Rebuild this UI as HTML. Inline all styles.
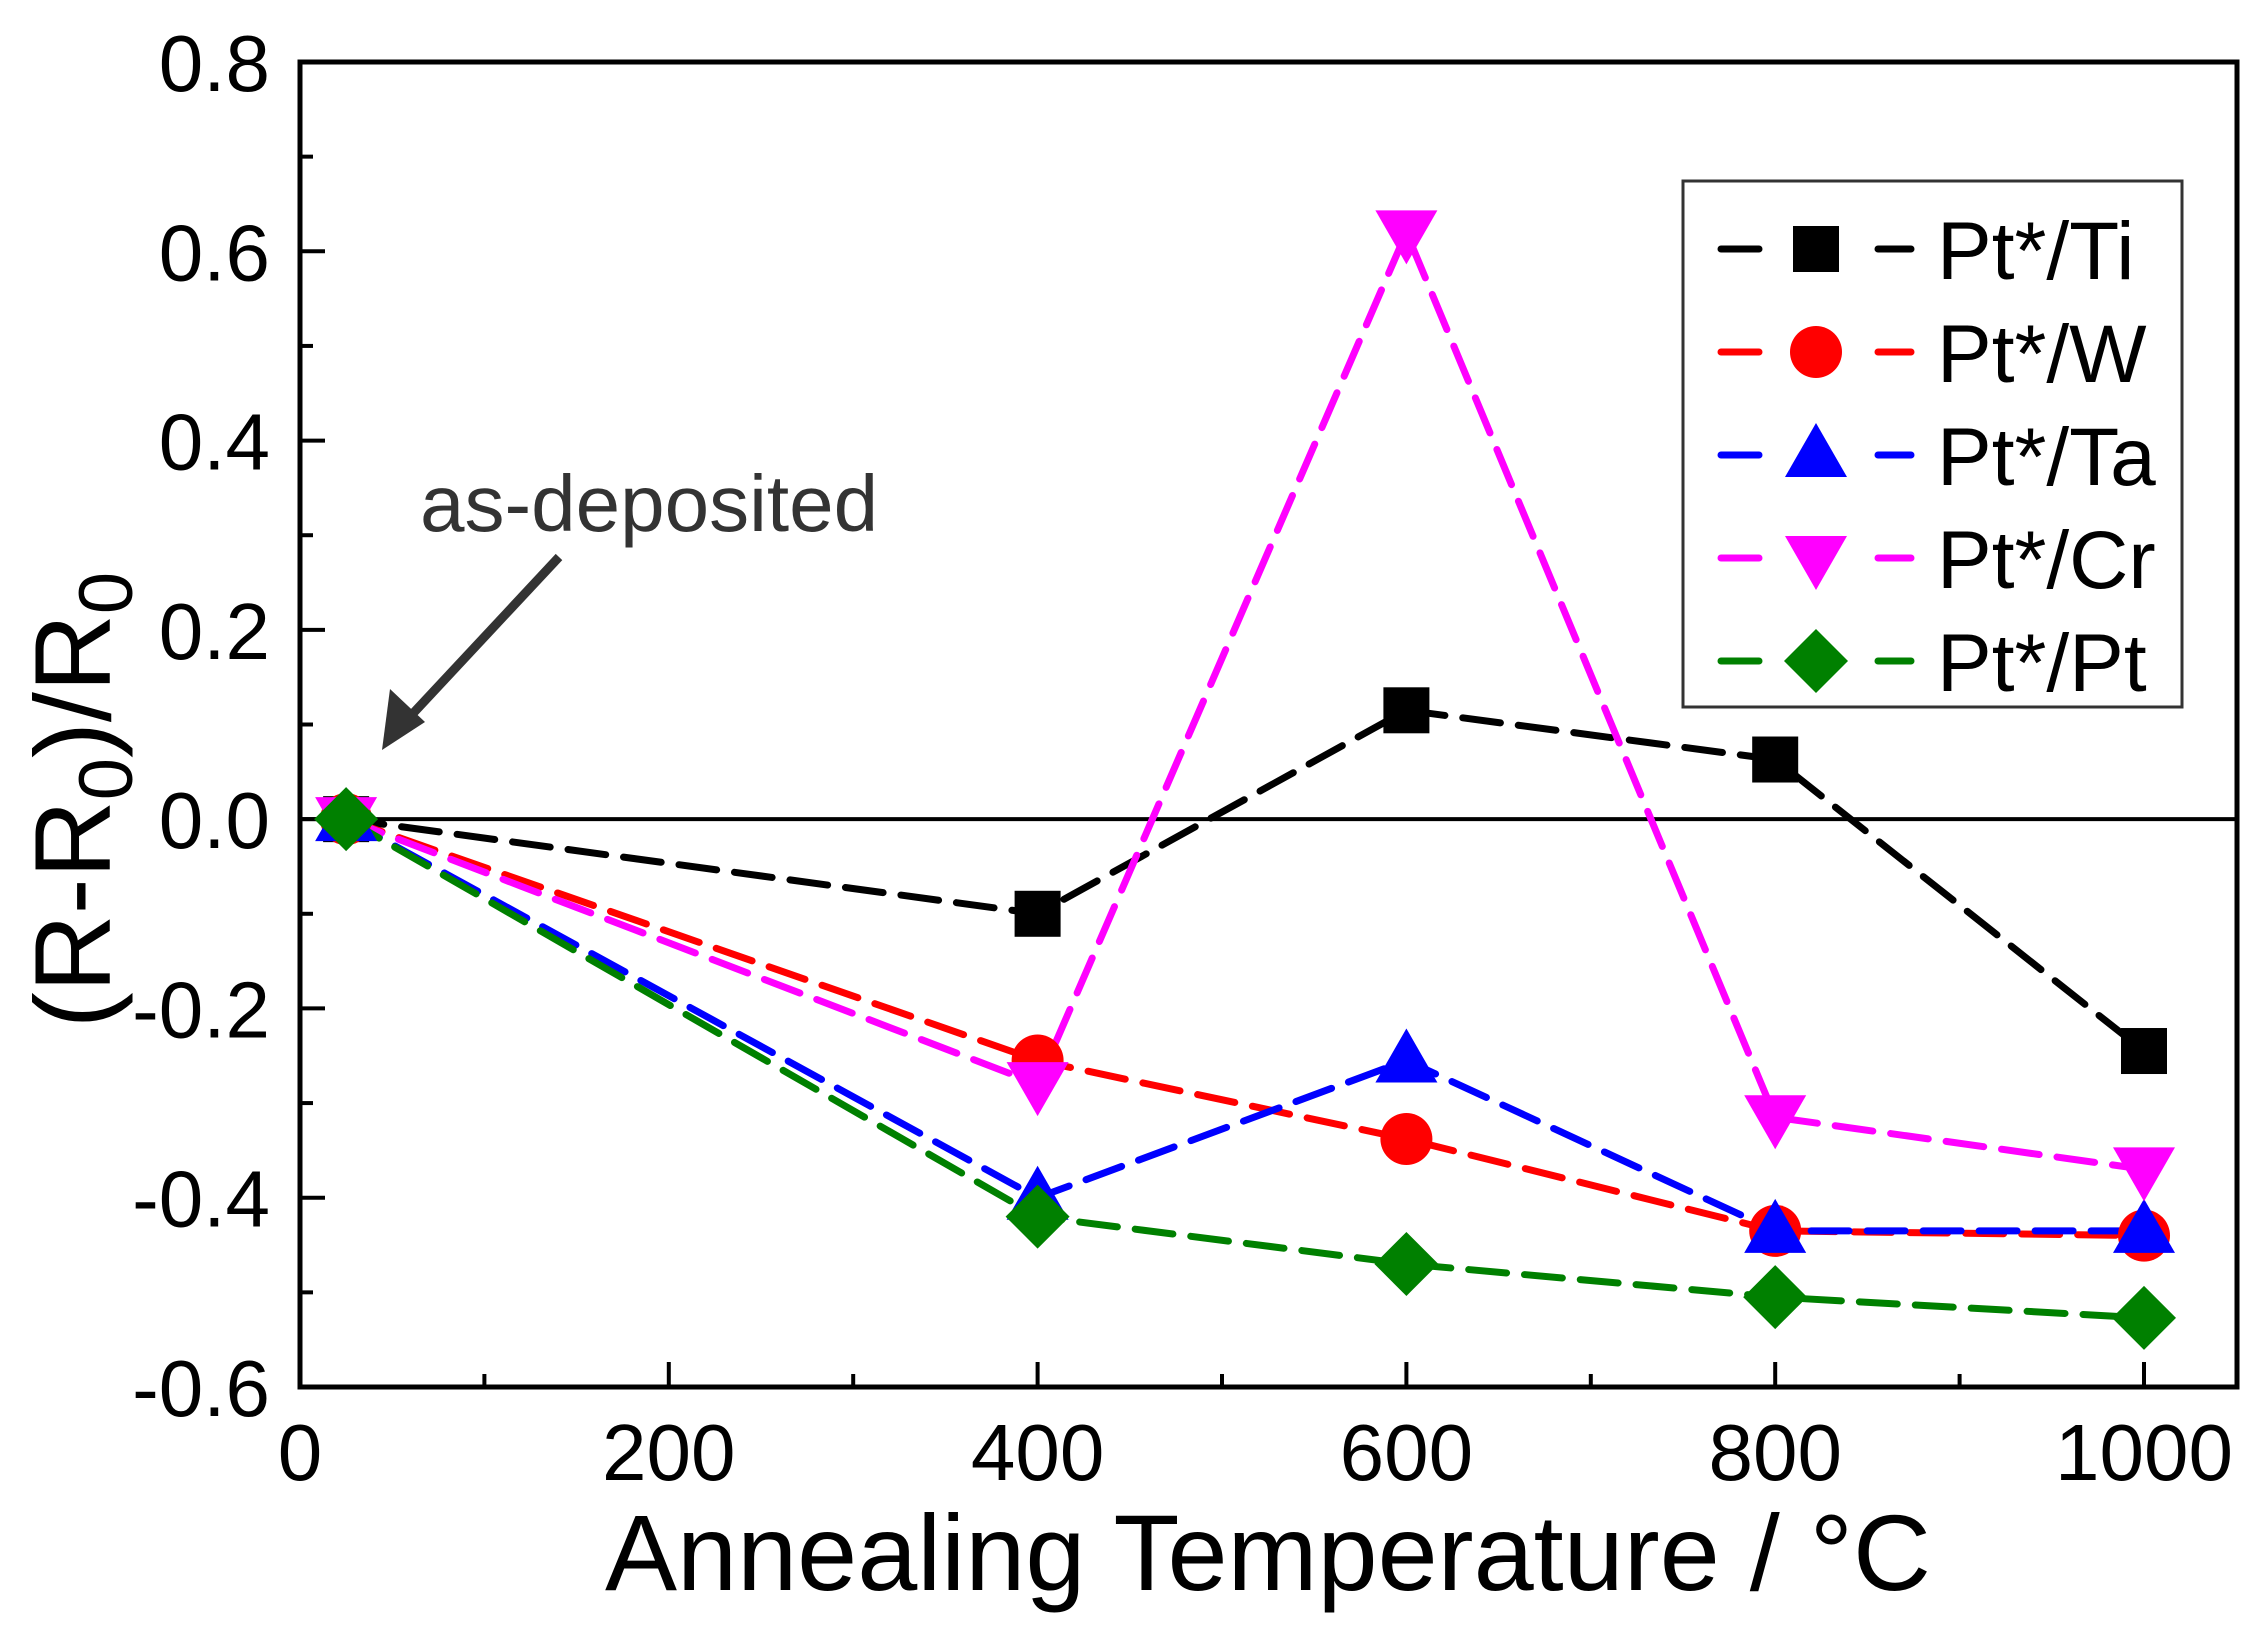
<!DOCTYPE html>
<html><head><meta charset="utf-8"><style>
html,body{margin:0;padding:0;background:#fff}
svg{display:block}
text{font-family:"Liberation Sans",Arial,sans-serif}
</style></head><body>
<svg id="chart" width="2265" height="1633" viewBox="0 0 2265 1633" xmlns="http://www.w3.org/2000/svg">
<rect x="0" y="0" width="2265" height="1633" fill="#fff"/>
<g id="axes"></g>
<g id="series"></g>
<text x="1268" y="1590" font-size="108" text-anchor="middle">Annealing Temperature / °C</text>
<text transform="translate(110,800) rotate(-90)" font-size="108" text-anchor="middle">(R-R<tspan font-size="76" dy="22">0</tspan><tspan dy="-22">)/R</tspan><tspan font-size="76" dy="22">0</tspan></text>
<text x="420" y="531" font-size="80" fill="#333">as-deposited</text>
<g>
<line x1="559" y1="557" x2="405" y2="722" stroke="#333" stroke-width="9"/>
<polygon points="382,750 390,689 425,722" fill="#333"/>
</g>
<g id="legend">
<rect x="1683" y="181" width="499" height="526" fill="#fff" stroke="#333" stroke-width="3"/>
</g>
</svg>
<script>
const categories = [25, 400, 600, 800, 1000];
const tiValues = [0, -0.1, 0.115, 0.063, -0.245];
const wValues = [0, -0.255, -0.338, -0.435, -0.44];
const taValues = [0, -0.4, -0.255, -0.435, -0.435];
const crValues = [0, -0.28, 0.62, -0.315, -0.37];
const ptValues = [0, -0.42, -0.47, -0.505, -0.527];
const seriesNames = ["Pt*/Ti", "Pt*/W", "Pt*/Ta", "Pt*/Cr", "Pt*/Pt"];
const xTickLabels = [0, 200, 400, 600, 800, 1000];
const yTickLabels = [0.8, 0.6, 0.4, 0.2, 0.0, -0.2, -0.4, -0.6];

const NS = "http://www.w3.org/2000/svg";
const L = 300, R = 2237, T = 62, B = 1387;
const X0 = 0, X1 = 1000, Y0 = -0.6, Y1 = 0.8;
const XR = 2144;
function xs(v){ return L + (v - X0) / (X1 - X0) * (XR - L); }
function ys(v){ return B - (v - Y0) / (Y1 - Y0) * (B - T); }
function mk(tag, attrs, parent){
  const e = document.createElementNS(NS, tag);
  for (const k in attrs) e.setAttribute(k, attrs[k]);
  parent.appendChild(e);
  return e;
}
const axes = document.getElementById('axes');
const frame = mk('rect', {x:L, y:T, width:R-L, height:B-T, fill:'none', stroke:'#000', 'stroke-width':5}, axes);


const zl = mk('line', {x1:L, x2:R, y1:ys(0), y2:ys(0), stroke:'#000', 'stroke-width':4}, axes);


for (let v = 0; v <= 1000; v += 100) {
  const major = v % 200 === 0;
  const t = mk('line', {x1:xs(v), x2:xs(v), y1:B, y2:B-(major?25:13), stroke:'#000', 'stroke-width':4}, axes);
  
  
}
xTickLabels.forEach(v => {
  const t = mk('text', {x:xs(v), y:1480, 'font-size':80, 'text-anchor':'middle'}, axes);
  t.textContent = String(v);
  
  
});
for (let i = 0; i <= 14; i++) {
  const v = -0.6 + i * 0.1;
  const major = i % 2 === 0;
  const t = mk('line', {x1:L, x2:L+(major?25:13), y1:ys(v), y2:ys(v), stroke:'#000', 'stroke-width':4}, axes);
  
  
}
yTickLabels.forEach(v => {
  const t = mk('text', {x:270, y:ys(v)+29, 'font-size':80, 'text-anchor':'end'}, axes);
  t.textContent = v.toFixed(1);
  
  
});

function marker(shape, cx, cy, color, parent){
  let e;
  if (shape === 'square') e = mk('rect', {x:cx-23, y:cy-23, width:46, height:46, fill:color}, parent);
  else if (shape === 'circle') e = mk('circle', {cx:cx, cy:cy, r:26, fill:color}, parent);
  else if (shape === 'up') e = mk('polygon', {points:`${cx},${cy-32} ${cx-31},${cy+22} ${cx+31},${cy+22}`, fill:color}, parent);
  else if (shape === 'down') e = mk('polygon', {points:`${cx},${cy+32} ${cx-31},${cy-22} ${cx+31},${cy-22}`, fill:color}, parent);
  else e = mk('polygon', {points:`${cx},${cy-32} ${cx+32},${cy} ${cx},${cy+32} ${cx-32},${cy}`, fill:color}, parent);
  return e;
}

const seriesData = [tiValues, wValues, taValues, crValues, ptValues];
const colors = ['#000000', '#ff0000', '#0000ff', '#ff00ff', '#008000'];
const shapes = ['square', 'circle', 'up', 'down', 'diamond'];
const slugs = ['ti', 'w', 'ta', 'cr', 'pt'];
const sg = document.getElementById('series');
seriesData.forEach((vals, si) => {
  const g = mk('g', {}, sg);
  
  
  const pts = vals.map((v, i) => xs(categories[i]) + ',' + ys(v)).join(' ');
  const pl = mk('polyline', {points:pts, fill:'none', stroke:colors[si], 'stroke-width':7, 'stroke-dasharray':'38 18', 'stroke-linecap':'round'}, g);
  
  
});
seriesData.forEach((vals, si) => {
  vals.forEach((v, i) => {
    const m = marker(shapes[si], xs(categories[i]), ys(v), colors[si], sg);
    
    
  });
});
const lg = document.getElementById('legend');
seriesNames.forEach((n, si) => {
  const cy = 249 + si * 103;
  const g = mk('g', {}, lg);
  
  
  mk('line', {x1:1721, x2:1759, y1:cy, y2:cy, stroke:colors[si], 'stroke-width':7, 'stroke-linecap':'round'}, g);
  mk('line', {x1:1878, x2:1911, y1:cy, y2:cy, stroke:colors[si], 'stroke-width':7, 'stroke-linecap':'round'}, g);
  marker(shapes[si], 1816, cy, colors[si], g);
  const t = mk('text', {x:1937, y:cy+30, 'font-size':82}, g);
  t.textContent = n;
});
</script>
</body></html>
